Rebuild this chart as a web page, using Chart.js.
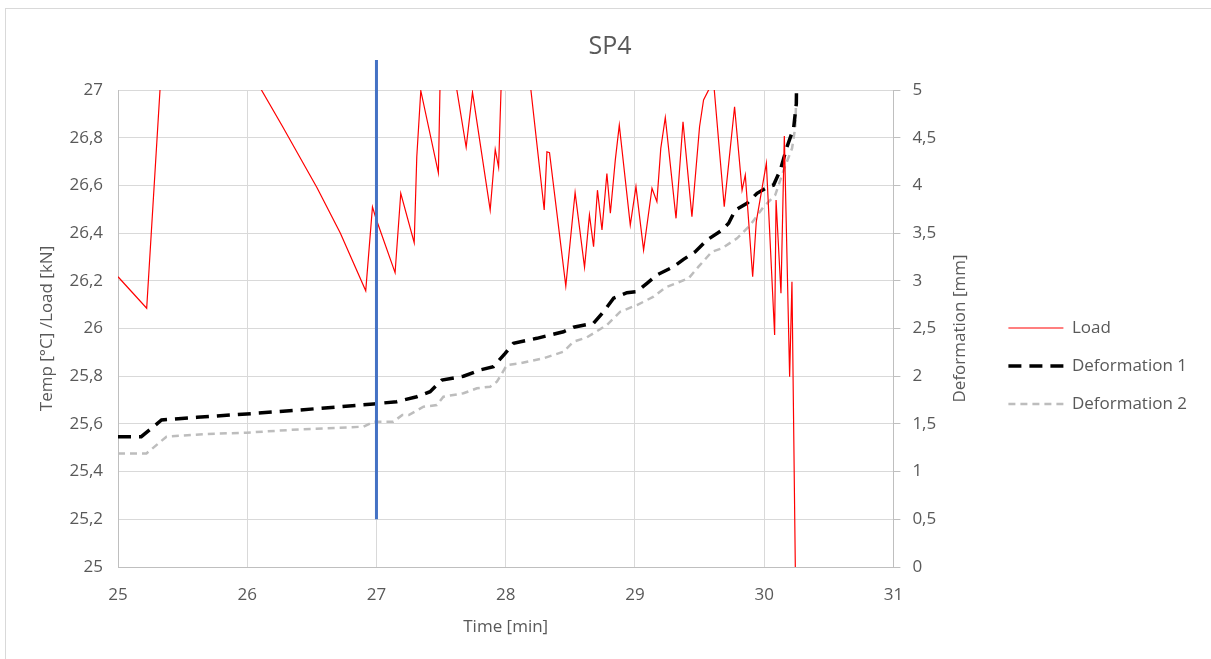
<!DOCTYPE html>
<html lang="en">
<head>
<meta charset="UTF-8">
<title>SP4</title>
<script src="https://cdn.jsdelivr.net/npm/chart.js"></script>
<style>
    html, body { margin: 0; padding: 0; overflow: hidden; background: #fff; }
    .frame {
        position: absolute;
        left: 5px;
        top: 8px;
        width: 1300px;
        height: 700px;
        border: 1px solid #d9d9d9;
    }
    #chart { position: absolute; left: 0; top: 0; }
</style>
</head>
<body>
<div class="frame"></div>
<canvas id="chart" width="1211" height="659"></canvas>

<script>
    // Load [kN] on the left axis (values above 27 run off the top of the plot)
    const loadTime = [25.000, 25.222, 25.325, 25.36, 25.70, 26.02, 26.11, 26.27, 26.54, 26.72,
        26.917, 26.969, 26.997, 27.144, 27.188, 27.292, 27.312, 27.343, 27.479, 27.493,
        27.52, 27.60, 27.622, 27.694, 27.743, 27.88, 27.919, 27.945, 27.963, 27.975,
        28.10, 28.195, 28.298, 28.319, 28.339, 28.465, 28.537, 28.61, 28.648, 28.68,
        28.71, 28.745, 28.783, 28.81, 28.848, 28.879, 28.964, 29.008, 29.067, 29.132,
        29.17, 29.2, 29.235, 29.318, 29.372, 29.441, 29.5, 29.531, 29.57, 29.59,
        29.614, 29.691, 29.771, 29.829, 29.854, 29.911, 29.939, 30.017, 30.081, 30.092,
        30.13, 30.156, 30.197, 30.215, 30.241, 30.245];
    const loadKN = [26.217, 26.085, 27.0, 27.45, 27.75, 27.12, 27.0, 26.85, 26.59, 26.40,
        26.158, 26.51, 26.46, 26.234, 26.567, 26.36, 26.72, 26.997, 26.653, 27.05,
        27.3, 27.3, 27.0, 26.76, 26.99, 26.497, 26.751, 26.676, 26.986, 27.2,
        27.4, 27.0, 26.497, 26.741, 26.737, 26.178, 26.57, 26.257, 26.476, 26.343,
        26.58, 26.413, 26.65, 26.483, 26.706, 26.853, 26.434, 26.595, 26.329, 26.588,
        26.532, 26.755, 26.885, 26.462, 26.867, 26.469, 26.846, 26.958, 27.0, 27.05,
        27.0, 26.511, 26.93, 26.58, 26.644, 26.217, 26.448, 26.693, 25.973, 26.539,
        26.148, 26.807, 25.798, 26.196, 25.0, 24.9];

    // Deformation [mm] on the right axis
    const def1Time = [25.000, 25.18, 25.337, 25.61, 25.996, 26.41, 26.977, 27.028, 27.157, 27.312,
        27.415, 27.506, 27.673, 27.802, 27.905, 27.996, 28.06, 28.241, 28.447, 28.525,
        28.68, 28.757, 28.835, 28.938, 29.015, 29.093, 29.17, 29.299, 29.376, 29.467,
        29.558, 29.674, 29.725, 29.777, 29.867, 29.945, 30.034, 30.073, 30.125, 30.177,
        30.228, 30.249, 30.25];
    const def1Mm = [1.366, 1.366, 1.541, 1.569, 1.604, 1.646, 1.709, 1.716, 1.733, 1.785,
        1.838, 1.96, 2.0, 2.065, 2.1, 2.24, 2.345, 2.397, 2.466, 2.513,
        2.555, 2.676, 2.817, 2.875, 2.886, 2.974, 3.061, 3.148, 3.225, 3.305,
        3.428, 3.532, 3.603, 3.742, 3.812, 3.917, 3.986, 4.004, 4.161, 4.406,
        4.6, 4.86, 5.0];

    const def2Time = [25.000, 25.22, 25.375, 25.685, 25.996, 26.41, 26.9, 26.977, 27.13, 27.2,
        27.25, 27.364, 27.467, 27.518, 27.673, 27.777, 27.88, 27.932, 28.009, 28.112,
        28.293, 28.447, 28.525, 28.629, 28.783, 28.886, 29.016, 29.144, 29.235, 29.415,
        29.492, 29.596, 29.674, 29.79, 29.893, 29.996, 30.086, 30.151, 30.216, 30.241,
        30.249];
    const def2Mm = [1.19, 1.19, 1.366, 1.394, 1.408, 1.443, 1.471, 1.523, 1.523, 1.593,
        1.593, 1.68, 1.698, 1.785, 1.821, 1.873, 1.89, 1.942, 2.117, 2.135,
        2.188, 2.257, 2.362, 2.408, 2.537, 2.676, 2.746, 2.833, 2.93, 3.026,
        3.148, 3.305, 3.341, 3.445, 3.585, 3.777, 3.9, 4.161, 4.389, 4.615,
        4.965];

    // vertical marker at 27 min
    const markerTime = [27, 27];
    const markerValue = [25.2, 27.126];

    const xTicks = { min: 25, max: 31, step: 1 };
    const leftTicks = { min: 25, max: 27, step: 0.2 };
    const rightTicks = { min: 0, max: 5, step: 0.5 };

    const zip = (xs, ys) => xs.map((x, i) => ({ x: x, y: ys[i] }));
    const comma = v => String(Math.round(v * 10) / 10).replace('.', ',');

    const FONT = '"Open Sans", sans-serif';
    const TXT = '#595959';
    const GRID = '#d9d9d9';
    const AXIS = '#bfbfbf';

    // Excel-style secondary axis title, reading bottom to top
    const rightTitle = {
        id: 'rightTitle',
        afterDraw(chart) {
            const s = chart.scales.yR;
            const a = chart.chartArea;
            const ctx = chart.ctx;
            ctx.save();
            ctx.translate(s.left + 67, (a.top + a.bottom) / 2);
            ctx.rotate(-Math.PI / 2);
            ctx.font = '17px ' + FONT;
            ctx.fillStyle = TXT;
            ctx.textAlign = 'center';
            ctx.textBaseline = 'middle';
            ctx.fillText('Deformation [mm]', 0, 0);
            ctx.restore();
        }
    };

    // legend samples keep the dataset's dash and width
    const legendLabels = chart => {
        const items = Chart.defaults.plugins.legend.labels.generateLabels(chart);
        return items.map(item => {
            const ds = chart.data.datasets[item.datasetIndex];
            item.lineDash = ds.borderDash || [];
            item.lineWidth = ds.borderWidth;
            item.strokeStyle = ds.borderColor;
            return item;
        });
    };

    const ctx = document.getElementById('chart').getContext('2d');
    new Chart(ctx, {
        type: 'line',
        data: {
            datasets: [
                {
                    label: 'marker',
                    data: zip(markerTime, markerValue),
                    yAxisID: 'yL',
                    borderColor: '#4472c4',
                    borderWidth: 3,
                    pointRadius: 0,
                    clip: false
                },
                {
                    label: 'Load',
                    data: zip(loadTime, loadKN),
                    yAxisID: 'yL',
                    borderColor: '#ff0000',
                    borderWidth: 1.2,
                    pointRadius: 0,
                    tension: 0
                },
                {
                    label: 'Deformation 1',
                    data: zip(def1Time, def1Mm),
                    yAxisID: 'yR',
                    borderColor: '#000000',
                    borderWidth: 3.5,
                    borderDash: [13, 8],
                    pointRadius: 0,
                    tension: 0
                },
                {
                    label: 'Deformation 2',
                    data: zip(def2Time, def2Mm),
                    yAxisID: 'yR',
                    borderColor: '#bdbdbd',
                    borderWidth: 2.5,
                    borderDash: [7, 5],
                    pointRadius: 0,
                    tension: 0
                }
            ]
        },
        options: {
            responsive: false,
            animation: false,
            events: [],
            layout: { padding: { left: 23, right: 14, top: 0, bottom: 0 } },
            plugins: {
                title: {
                    display: true,
                    text: 'SP4',
                    color: TXT,
                    font: { family: FONT, size: 25, weight: 'normal' },
                    padding: { top: 32, bottom: 28 }
                },
                legend: {
                    position: 'right',
                    fullSize: false,
                    maxWidth: 260,
                    title: { display: true, text: '', font: { size: 10, lineHeight: 1 }, padding: { top: 65, bottom: 0 } },
                    labels: {
                        generateLabels: legendLabels,
                        filter: item => item.text !== 'marker',
                        usePointStyle: true,
                        pointStyle: 'line',
                        pointStyleWidth: 55,
                        padding: 21,
                        color: TXT,
                        font: { family: FONT, size: 17 }
                    }
                },
                tooltip: { enabled: false }
            },
            scales: {
                x: {
                    type: 'linear',
                    min: xTicks.min,
                    max: xTicks.max,
                    afterFit: s => { s.height = 92; },
                    ticks: { stepSize: xTicks.step, color: TXT, padding: 18, font: { family: FONT, size: 17 }, callback: comma },
                    grid: { color: GRID, drawTicks: false },
                    border: { color: AXIS },
                    title: { display: true, text: 'Time [min]', color: TXT, font: { family: FONT, size: 17 }, padding: { top: 0, bottom: 22 } }
                },
                yL: {
                    type: 'linear',
                    position: 'left',
                    min: leftTicks.min,
                    max: leftTicks.max,
                    afterFit: s => { s.width = 95; },
                    ticks: { stepSize: leftTicks.step, color: TXT, padding: 15, font: { family: FONT, size: 17 }, callback: comma },
                    grid: { color: GRID, drawTicks: false },
                    border: { color: AXIS },
                    title: { display: true, text: 'Temp [°C] /Load [kN]', color: TXT, font: { family: FONT, size: 17 }, padding: { top: 14, bottom: 0 } }
                },
                yR: {
                    type: 'linear',
                    position: 'right',
                    min: rightTicks.min,
                    max: rightTicks.max,
                    afterFit: s => { s.width = 94; },
                    ticks: { stepSize: rightTicks.step, color: TXT, padding: 12, font: { family: FONT, size: 17 }, callback: comma },
                    grid: { drawOnChartArea: false, drawTicks: true, tickLength: 7, color: AXIS },
                    border: { color: AXIS }
                }
            }
        },
        plugins: [rightTitle]
    });
</script>
</body>
</html>
